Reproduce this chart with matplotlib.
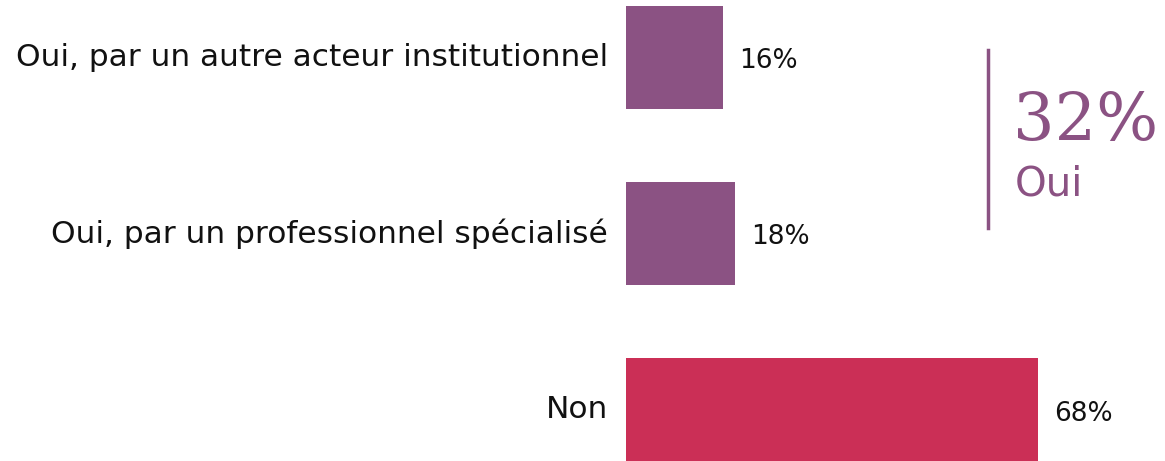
import matplotlib.pyplot as plt
import matplotlib.transforms as mtransforms

# --- Data ---
categories = ['Oui, par un autre acteur institutionnel',
              'Oui, par un professionnel spécialisé',
              'Non']
values = [16, 18, 68]
bar_colors = ['#8B5283', '#8B5283', '#CB2F56']
total_oui = 32
total_label = 'Oui'

PURPLE = '#8B5283'
W, H = 1165, 461
PX_PER_PCT = 6.06   # horizontal scale, pixels per percent
PX_PER_ROW = 176    # vertical spacing between bars

fig = plt.figure(figsize=(W / 100, H / 100), dpi=100)
left_px = 626
ax = fig.add_axes([left_px / W, 0, (W - left_px) / W, 1])
ax.set_xlim(0, (W - left_px) / PX_PER_PCT)
top_off = 57.5 / PX_PER_ROW
ax.set_ylim((H - 57.5) / PX_PER_ROW, -top_off)
ax.axis('off')

ypos = list(range(len(categories)))
ax.barh(ypos, values, height=103 / PX_PER_ROW, color=bar_colors, left=0)

# category labels, right aligned next to the bars
lab_tr = ax.transData + mtransforms.ScaledTranslation(-18 / 100, 0, fig.dpi_scale_trans)
for y, cat in zip(ypos, categories):
    ax.text(0, y, cat, transform=lab_tr, ha='right', va='center',
            fontsize=22.5, color='#111111', clip_on=False)

# value labels at the end of each bar
val_tr = ax.transData + mtransforms.ScaledTranslation(16 / 100, -4 / 100, fig.dpi_scale_trans)
for y, v in zip(ypos, values):
    ax.text(v, y, f'{v}%', transform=val_tr, ha='left', va='center',
            fontsize=19, color='#111111', clip_on=False)

# --- "32% Oui" call-out ---
fig.add_artist(plt.Line2D([988 / W, 988 / W], [1 - 50 / H, 1 - 228 / H],
                          color=PURPLE, linewidth=2.5))
fig.text(1013 / W, 1 - 140 / H, f'{total_oui}%', ha='left', va='baseline',
         fontsize=47, color=PURPLE, family='DejaVu Serif')
fig.text(1015 / W, 1 - 195 / H, total_label, ha='left', va='baseline',
         fontsize=29, color=PURPLE)

fig.savefig('out.png', dpi=100)
